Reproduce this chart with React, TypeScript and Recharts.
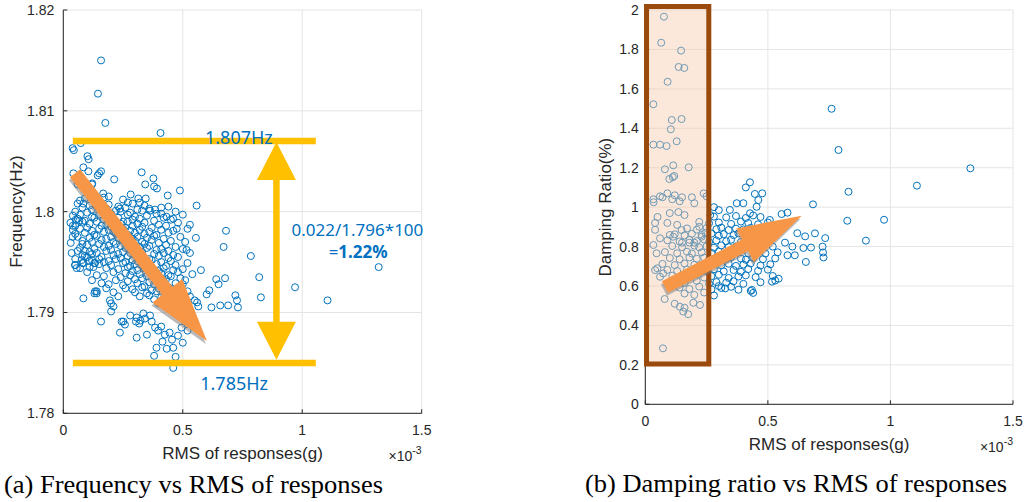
import React from 'react'
import {
  ScatterChart,
  Scatter,
  XAxis,
  YAxis,
  CartesianGrid,
  ReferenceLine,
  ReferenceArea,
  ReferenceDot,
} from 'recharts'

// x values are RMS of responses in units of 1e-3 g
const rmsTicks = [0, 0.5, 1, 1.5]
const freqTicks = [1.78, 1.79, 1.8, 1.81, 1.82]
const dampTicks = [0, 0.2, 0.4, 0.6, 0.8, 1, 1.2, 1.4, 1.6, 1.8, 2]

const freqSparse: [number, number][] = [
  [0.158, 1.815], [0.145, 1.8117], [0.176, 1.8088], [0.407, 1.8078],
  [0.039, 1.8063], [0.044, 1.8061], [0.073, 1.8068], [0.101, 1.8055], [0.106, 1.8052],
  [0.084, 1.8044], [0.042, 1.8038], [0.105, 1.804], [0.15, 1.8038], [0.158, 1.804], [0.144, 1.8036],
  [0.121, 1.8028], [0.213, 1.8032], [0.167, 1.8018], [0.19, 1.8015], [0.328, 1.8039], [0.377, 1.8033],
  [0.343, 1.8027], [0.38, 1.8025], [0.392, 1.8023], [0.437, 1.8016], [0.488, 1.8021], [0.558, 1.8006],
  [0.282, 1.8017], [0.314, 1.8013], [0.345, 1.8013], [0.32, 1.8009], [0.07, 1.8011], [0.084, 1.8008],
  [0.06, 1.8027], [0.12, 1.8027], [0.237, 1.8003], [0.363, 1.8001], [0.384, 1.8002], [0.41, 1.7998],
  [0.46, 1.7993], [0.475, 1.7983], [0.432, 1.7995], [0.516, 1.7962],
  [0.681, 1.7981], [0.555, 1.7974], [0.671, 1.7965], [1.32, 1.7945], [0.785, 1.7956], [0.82, 1.7935],
  [0.97, 1.7925], [0.827, 1.7915], [1.106, 1.7912],
  [0.576, 1.7942], [0.64, 1.7933], [0.677, 1.7934], [0.611, 1.7922], [0.72, 1.7917], [0.727, 1.7912],
  [0.731, 1.7905], [0.657, 1.7907], [0.69, 1.7907], [0.62, 1.7905], [0.56, 1.791], [0.565, 1.7906],
  [0.65, 1.7928], [0.6, 1.7918],
  [0.039, 1.7975], [0.031, 1.7969], [0.052, 1.7992], [0.067, 1.7991], [0.035, 1.7959], [0.049, 1.7947],
  [0.056, 1.7944], [0.084, 1.7949], [0.077, 1.7952], [0.126, 1.7945], [0.133, 1.7949],
  [0.084, 1.7914], [0.14, 1.7919], [0.133, 1.7921], [0.195, 1.7912], [0.2, 1.7909], [0.2, 1.7901], [0.21, 1.7906],
  [0.158, 1.7891], [0.237, 1.788], [0.244, 1.7891], [0.258, 1.7888], [0.251, 1.7891], [0.307, 1.7875],
  [0.304, 1.7891], [0.318, 1.7889], [0.323, 1.7892],
  [0.363, 1.7897], [0.37, 1.7891], [0.384, 1.7885], [0.397, 1.7882], [0.39, 1.7865], [0.433, 1.7864],
  [0.46, 1.7865], [0.38, 1.7857], [0.47, 1.7856], [0.46, 1.7845],
  [0.28, 1.7897], [0.307, 1.7895], [0.335, 1.7899], [0.342, 1.7894], [0.41, 1.7886], [0.425, 1.7878],
  [0.445, 1.788], [0.455, 1.7873], [0.48, 1.7877], [0.5, 1.787], [0.495, 1.7885], [0.52, 1.7882],
  [0.35, 1.7878], [0.415, 1.7871],
  [0.05, 1.7947], [0.08, 1.7949], [0.07, 1.7944], [0.11, 1.7945], [0.13, 1.7949], [0.1, 1.794],
  [0.14, 1.7937], [0.12, 1.7932], [0.16, 1.7929], [0.14, 1.7921], [0.13, 1.7919], [0.18, 1.7924],
  [0.21, 1.792], [0.23, 1.7916],
  [0.06, 1.7961], [0.08, 1.7957], [0.05, 1.7953], [0.1, 1.7955], [0.12, 1.7958], [0.15, 1.7953],
  [0.09, 1.7961], [0.17, 1.795], [0.11, 1.7951], [0.05, 1.7978], [0.08, 1.7968], [0.04, 1.7986],
]

const freqCore: [number, number][] = [
  [0.09, 1.8013], [0.17, 1.8014], [0.25, 1.8012], [0.27, 1.8009],
  [0.06, 1.8008], [0.11, 1.8006], [0.15, 1.8009], [0.19, 1.8007], [0.23, 1.8005], [0.29, 1.8008], [0.34, 1.8006], [0.41, 1.8004],
  [0.08, 1.8004], [0.12, 1.8002], [0.14, 1.8005], [0.18, 1.8003], [0.22, 1.8001], [0.26, 1.8004], [0.31, 1.8002], [0.36, 1.8003], [0.44, 1.8005],
  [0.05, 1.8], [0.1, 1.7999], [0.16, 1.8001], [0.2, 1.7998], [0.24, 1.8], [0.28, 1.7999], [0.33, 1.8001], [0.39, 1.7998], [0.47, 1.8],
  [0.04, 1.7996], [0.07, 1.7997], [0.12, 1.7995], [0.15, 1.7997], [0.19, 1.7996], [0.23, 1.7994], [0.27, 1.7997], [0.3, 1.7995], [0.35, 1.7996], [0.42, 1.7994], [0.5, 1.7997],
  [0.06, 1.7993], [0.09, 1.7991], [0.13, 1.7994], [0.17, 1.7992], [0.21, 1.7993], [0.25, 1.799], [0.29, 1.7992], [0.32, 1.7993], [0.38, 1.7991], [0.45, 1.7992],
  [0.03, 1.7989], [0.08, 1.799], [0.11, 1.7988], [0.14, 1.799], [0.18, 1.7987], [0.22, 1.7989], [0.24, 1.7988], [0.27, 1.799], [0.31, 1.7988], [0.34, 1.7989], [0.4, 1.7987], [0.48, 1.7989], [0.53, 1.7987],
  [0.05, 1.7986], [0.1, 1.7984], [0.16, 1.7986], [0.2, 1.7985], [0.23, 1.7987], [0.26, 1.7984], [0.29, 1.7986], [0.33, 1.7985], [0.37, 1.7984], [0.43, 1.7986],
  [0.04, 1.7982], [0.07, 1.7983], [0.12, 1.7981], [0.15, 1.7983], [0.19, 1.7982], [0.21, 1.798], [0.25, 1.7983], [0.28, 1.7981], [0.32, 1.7982], [0.36, 1.798], [0.41, 1.7982], [0.46, 1.7981], [0.52, 1.7983],
  [0.09, 1.7979], [0.13, 1.7977], [0.17, 1.798], [0.22, 1.7978], [0.24, 1.7979], [0.27, 1.7977], [0.3, 1.7979], [0.34, 1.7978], [0.39, 1.7977], [0.44, 1.7979],
  [0.06, 1.7975], [0.11, 1.7974], [0.14, 1.7976], [0.18, 1.7973], [0.2, 1.7975], [0.23, 1.7974], [0.26, 1.7976], [0.29, 1.7973], [0.31, 1.7975], [0.35, 1.7974], [0.38, 1.7976], [0.42, 1.7973], [0.49, 1.7975],
  [0.08, 1.7971], [0.12, 1.797], [0.16, 1.7972], [0.21, 1.797], [0.25, 1.7971], [0.28, 1.7969], [0.3, 1.7971], [0.33, 1.797], [0.37, 1.7972], [0.4, 1.7969], [0.45, 1.7971], [0.51, 1.797],
  [0.1, 1.7967], [0.15, 1.7968], [0.19, 1.7966], [0.22, 1.7968], [0.24, 1.7966], [0.27, 1.7967], [0.32, 1.7965], [0.34, 1.7968], [0.36, 1.7966], [0.43, 1.7967], [0.47, 1.7965],
  [0.07, 1.7964], [0.13, 1.7963], [0.17, 1.7965], [0.2, 1.7962], [0.26, 1.7964], [0.29, 1.7963], [0.31, 1.7961], [0.35, 1.7964], [0.39, 1.7962], [0.41, 1.7963], [0.44, 1.7961], [0.5, 1.7963],
  [0.11, 1.796], [0.14, 1.7959], [0.18, 1.7961], [0.23, 1.7958], [0.25, 1.796], [0.28, 1.7959], [0.3, 1.7957], [0.33, 1.796], [0.38, 1.7958], [0.42, 1.7959], [0.46, 1.7957], [0.53, 1.7959],
  [0.09, 1.7956], [0.16, 1.7955], [0.21, 1.7957], [0.24, 1.7954], [0.27, 1.7956], [0.32, 1.7955], [0.36, 1.7953], [0.4, 1.7956], [0.44, 1.7954], [0.48, 1.7955],
  [0.12, 1.7952], [0.19, 1.7951], [0.22, 1.7953], [0.26, 1.795], [0.29, 1.7952], [0.31, 1.7951], [0.34, 1.7949], [0.37, 1.7952], [0.41, 1.795], [0.45, 1.7951], [0.52, 1.7949],
  [0.15, 1.7948], [0.2, 1.7947], [0.25, 1.7949], [0.28, 1.7946], [0.3, 1.7948], [0.33, 1.7947], [0.35, 1.7945], [0.39, 1.7948], [0.43, 1.7946], [0.47, 1.7947],
  [0.18, 1.7944], [0.23, 1.7943], [0.27, 1.7945], [0.31, 1.7942], [0.34, 1.7944], [0.36, 1.7943], [0.4, 1.7941], [0.42, 1.7944], [0.46, 1.7942], [0.5, 1.7943],
  [0.21, 1.794], [0.26, 1.7939], [0.29, 1.7941], [0.32, 1.7938], [0.37, 1.794], [0.41, 1.7939], [0.44, 1.7937], [0.48, 1.794], [0.54, 1.7938],
  [0.17, 1.7936], [0.24, 1.7935], [0.28, 1.7937], [0.33, 1.7934], [0.35, 1.7936], [0.38, 1.7935], [0.43, 1.7933], [0.45, 1.7936], [0.49, 1.7934],
  [0.22, 1.7932], [0.27, 1.7931], [0.3, 1.7933], [0.36, 1.793], [0.39, 1.7932], [0.42, 1.7931], [0.47, 1.7929], [0.51, 1.7932],
  [0.19, 1.7928], [0.25, 1.7927], [0.31, 1.7929], [0.34, 1.7926], [0.38, 1.7928], [0.41, 1.7927], [0.44, 1.7925], [0.5, 1.7928],
  [0.26, 1.7924], [0.29, 1.7923], [0.33, 1.7925], [0.37, 1.7922], [0.4, 1.7924], [0.46, 1.7923], [0.52, 1.7921],
  [0.3, 1.792], [0.35, 1.7919], [0.39, 1.7921], [0.43, 1.7918], [0.48, 1.792],
  [0.32, 1.7916], [0.36, 1.7917], [0.41, 1.7915], [0.45, 1.7917], [0.53, 1.7916],
  [0.38, 1.7913], [0.42, 1.7912], [0.47, 1.7914], [0.55, 1.7912],
  [0.4, 1.7909], [0.44, 1.7908], [0.5, 1.791],
]

const dampSparse: [number, number][] = [
  [0.076, 1.966], [0.065, 1.834], [0.146, 1.794], [0.136, 1.711], [0.159, 1.706], [0.091, 1.636],
  [0.033, 1.522], [0.108, 1.442], [0.148, 1.447], [0.104, 1.395], [0.033, 1.317], [0.06, 1.317],
  [0.087, 1.31], [0.128, 1.334], [0.114, 1.212], [0.08, 1.192], [0.177, 1.202], [0.098, 1.143],
  [0.118, 1.158], [0.112, 1.152],
  [0.76, 1.499], [0.788, 1.29], [1.326, 1.197], [1.108, 1.109], [0.829, 1.078], [0.684, 1.014],
  [0.824, 0.931], [0.974, 0.936], [0.9, 0.83],
  [0.427, 1.126], [0.41, 1.1], [0.447, 1.067], [0.477, 1.07], [0.238, 1.07],
  [0.072, 0.284],
  [0.079, 0.534], [0.141, 0.495], [0.155, 0.47], [0.175, 0.457], [0.196, 0.515], [0.223, 0.504],
  [0.12, 0.51], [0.16, 0.49],
  [0.734, 0.843], [0.692, 0.867], [0.62, 0.868], [0.652, 0.852], [0.645, 0.793], [0.676, 0.795],
  [0.723, 0.8], [0.725, 0.77], [0.727, 0.745], [0.655, 0.722], [0.58, 0.756], [0.61, 0.756],
  [0.556, 0.965], [0.58, 0.972], [0.6, 0.8], [0.57, 0.82],
  [0.435, 0.58], [0.44, 0.565], [0.43, 0.575], [0.544, 0.637], [0.517, 0.622], [0.326, 0.588], [0.3, 0.6],
  [0.345, 0.986], [0.373, 1.02], [0.4, 1.02], [0.427, 0.969], [0.454, 1.002], [0.461, 1.036],
  [0.508, 0.935], [0.536, 0.901], [0.549, 0.884], [0.3, 0.985], [0.265, 0.96], [0.28, 1.0],
  [0.09, 1.07], [0.12, 1.06], [0.19, 1.05], [0.25, 1.055], [0.033, 1.04], [0.034, 1.025],
  [0.06, 1.055], [0.07, 1.05], [0.11, 1.04], [0.14, 1.03], [0.15, 1.05], [0.2, 1.02],
  [0.05, 0.95], [0.09, 0.92], [0.04, 0.92], [0.04, 0.885], [0.1, 0.97], [0.135, 0.975],
  [0.16, 0.96], [0.13, 0.91], [0.148, 0.884], [0.114, 0.85], [0.06, 0.842], [0.1, 0.859],
  [0.033, 0.808], [0.046, 0.766], [0.22, 0.9], [0.245, 0.87], [0.23, 0.85], [0.2, 0.82],
  [0.18, 0.82], [0.15, 0.82], [0.04, 0.681], [0.049, 0.69], [0.06, 0.647], [0.073, 0.664],
]

const dampCore: [number, number][] = [
  [0.28, 0.952], [0.33, 0.948], [0.37, 0.955], [0.41, 0.945], [0.44, 0.958], [0.47, 0.95],
  [0.22, 0.925], [0.26, 0.918], [0.3, 0.922], [0.35, 0.915], [0.39, 0.927], [0.42, 0.92], [0.46, 0.913], [0.5, 0.922],
  [0.17, 0.892], [0.21, 0.886], [0.25, 0.894], [0.29, 0.888], [0.31, 0.896], [0.34, 0.884], [0.37, 0.891], [0.4, 0.887], [0.43, 0.895], [0.48, 0.889], [0.53, 0.892],
  [0.12, 0.862], [0.16, 0.857], [0.19, 0.865], [0.23, 0.859], [0.27, 0.866], [0.3, 0.855], [0.32, 0.863], [0.36, 0.858], [0.38, 0.867], [0.41, 0.856], [0.45, 0.862], [0.49, 0.857],
  [0.09, 0.832], [0.14, 0.826], [0.18, 0.834], [0.21, 0.828], [0.24, 0.836], [0.26, 0.824], [0.29, 0.831], [0.33, 0.827], [0.35, 0.835], [0.39, 0.823], [0.42, 0.83], [0.46, 0.826], [0.51, 0.833],
  [0.11, 0.803], [0.15, 0.797], [0.2, 0.805], [0.22, 0.796], [0.25, 0.802], [0.28, 0.794], [0.31, 0.806], [0.34, 0.798], [0.37, 0.801], [0.4, 0.795], [0.44, 0.804], [0.47, 0.797], [0.52, 0.8],
  [0.08, 0.772], [0.13, 0.766], [0.17, 0.774], [0.19, 0.765], [0.23, 0.771], [0.27, 0.768], [0.3, 0.775], [0.32, 0.764], [0.36, 0.77], [0.38, 0.776], [0.42, 0.767], [0.45, 0.773], [0.49, 0.765], [0.54, 0.771],
  [0.1, 0.742], [0.14, 0.736], [0.18, 0.745], [0.21, 0.738], [0.24, 0.744], [0.26, 0.735], [0.29, 0.741], [0.33, 0.737], [0.35, 0.746], [0.39, 0.739], [0.41, 0.733], [0.44, 0.742], [0.48, 0.736], [0.53, 0.74],
  [0.07, 0.712], [0.12, 0.706], [0.16, 0.714], [0.2, 0.708], [0.23, 0.703], [0.27, 0.711], [0.31, 0.705], [0.34, 0.713], [0.37, 0.702], [0.4, 0.709], [0.43, 0.715], [0.47, 0.704], [0.51, 0.71],
  [0.09, 0.682], [0.13, 0.676], [0.17, 0.684], [0.22, 0.673], [0.25, 0.679], [0.28, 0.685], [0.32, 0.674], [0.36, 0.681], [0.39, 0.672], [0.42, 0.686], [0.46, 0.677], [0.5, 0.683],
  [0.11, 0.652], [0.15, 0.646], [0.19, 0.655], [0.24, 0.643], [0.27, 0.65], [0.3, 0.657], [0.34, 0.641], [0.38, 0.648], [0.41, 0.654], [0.45, 0.645], [0.52, 0.651],
  [0.12, 0.622], [0.16, 0.615], [0.21, 0.626], [0.26, 0.612], [0.29, 0.62], [0.33, 0.617], [0.36, 0.624], [0.4, 0.611], [0.47, 0.619], [0.53, 0.628],
  [0.14, 0.592], [0.18, 0.585], [0.22, 0.597], [0.27, 0.583], [0.31, 0.59], [0.35, 0.596], [0.38, 0.581],
  [0.16, 0.562], [0.2, 0.555], [0.24, 0.567], [0.28, 0.552],
]

const freqData = [...freqSparse, ...freqCore].map(([x, y]) => ({x, y}))
const dampData = [...dampSparse, ...dampCore].map(([x, y]) => ({x, y}))

const BLUE = '#0072BD'
const AXIS = '#262626'
const GRID = '#e4e4e4'
const YELLOW = '#FFC000'
const ORANGE = '#F79646'
const NOTE = '#0070C0'
const SANS = '"Liberation Sans", Arial, sans-serif'
const NOTE_FONT = '"Noto Sans", "Open Sans", sans-serif'

const Ring = (p: any) => (
  <circle cx={p.cx} cy={p.cy} r={3.5} fill="none" stroke={BLUE} strokeWidth={1} />
)

function arrowPoints(x1: number, y1: number, x2: number, y2: number, shaft: number, headW: number, headL: number) {
  const len = Math.hypot(x2 - x1, y2 - y1)
  const ux = (x2 - x1) / len
  const uy = (y2 - y1) / len
  const nx = -uy
  const ny = ux
  const bx = x2 - ux * headL
  const by = y2 - uy * headL
  const pts = [
    [x1 + (nx * shaft) / 2, y1 + (ny * shaft) / 2],
    [bx + (nx * shaft) / 2, by + (ny * shaft) / 2],
    [bx + (nx * headW) / 2, by + (ny * headW) / 2],
    [x2, y2],
    [bx - (nx * headW) / 2, by - (ny * headW) / 2],
    [bx - (nx * shaft) / 2, by - (ny * shaft) / 2],
    [x1 - (nx * shaft) / 2, y1 - (ny * shaft) / 2],
  ]
  return pts.map((p) => p.join(',')).join(' ')
}

const FatArrow = (p: any) => (
  <g>
    <polygon
      points={arrowPoints(p.x1, p.y1, p.x2, p.y2, 13, 38, 64)}
      fill="#7f7f7f"
      opacity={0.55}
      transform="translate(-1,3)"
    />
    <polygon points={arrowPoints(p.x1, p.y1, p.x2, p.y2, 13, 38, 64)} fill={ORANGE} />
  </g>
)

const DoubleArrow = (p: any) => {
  const my = (p.y1 + p.y2) / 2
  return (
    <g fill={YELLOW}>
      <polygon points={arrowPoints(p.x1, my, p.x1, p.y1, 6.5, 39, 38)} />
      <polygon points={arrowPoints(p.x2, my, p.x2, p.y2, 6.5, 39, 38)} />
    </g>
  )
}

const BandLine = (p: any) => (
  <line x1={p.x1} y1={p.y1} x2={p.x2} y2={p.y2} stroke={YELLOW} strokeWidth={6.5} />
)

const noteText = (text: string, size: number) => (p: any) => (
  <text x={p.cx} y={p.cy} textAnchor="middle" fill={NOTE} fontSize={size} fontFamily={NOTE_FONT}>
    {text}
  </text>
)

const percentText = (p: any) => (
  <text x={p.cx} y={p.cy} textAnchor="middle" fill={NOTE} fontSize={17} fontFamily={NOTE_FONT}>
    <tspan>=</tspan>
    <tspan fontWeight="bold">1.22%</tspan>
  </text>
)

const xTitle = (props: any) => {
  const {x, y, width} = props.viewBox
  return (
    <g fill={AXIS} fontFamily={SANS}>
      <text x={x + width / 2} y={y + 45.5} textAnchor="middle" fontSize={17}>
        RMS of responses(g)
      </text>
      <text x={x + width} y={y + 47.5} textAnchor="end" fontSize={14}>
        ×10
        <tspan dy={-7} fontSize={10.5}>
          -3
        </tspan>
      </text>
    </g>
  )
}

const yTitle = (text: string, dx: number) => (props: any) => {
  const {x, y, height} = props.viewBox
  const cx = x + dx
  const cy = y + height / 2
  return (
    <text
      x={cx}
      y={cy}
      dy="0.35em"
      transform={`rotate(-90 ${cx} ${cy})`}
      textAnchor="middle"
      fill={AXIS}
      fontSize={17}
      fontFamily={SANS}
    >
      {text}
    </text>
  )
}

const tickStyle = {fill: AXIS, fontSize: 14, fontFamily: SANS}

function FreqChart() {
  return (
    <ScatterChart width={440} height={480} margin={{top: 10, right: 18.3, bottom: 26.7, left: 13.3}}>
      <CartesianGrid xAxisId="b" yAxisId="l" stroke={GRID} />
      <XAxis
        xAxisId="b"
        dataKey="x"
        type="number"
        domain={[0, 1.5]}
        ticks={rmsTicks}
        interval={0}
        height={40}
        tickSize={-4}
        tickMargin={15.5}
        stroke={AXIS}
        tick={tickStyle}
        label={{content: xTitle}}
      />
      <XAxis xAxisId="t" orientation="top" type="number" domain={[0, 1.5]} ticks={rmsTicks} interval={0} height={0} tickSize={-4} tick={false} stroke={AXIS} />
      <YAxis
        yAxisId="l"
        dataKey="y"
        type="number"
        domain={[1.78, 1.82]}
        ticks={freqTicks}
        interval={0}
        width={50}
        tickSize={-4}
        tickMargin={13}
        stroke={AXIS}
        tick={tickStyle}
        label={{content: yTitle('Frequency(Hz)', 3.2)}}
      />
      <YAxis yAxisId="r" orientation="right" type="number" domain={[1.78, 1.82]} ticks={freqTicks} interval={0} width={0} tickSize={-4} tick={false} stroke={AXIS} />
      <Scatter xAxisId="b" yAxisId="l" data={freqData} shape={Ring} isAnimationActive={false} />
      <ReferenceLine
        xAxisId="b"
        yAxisId="l"
        segment={[{x: 0.049, y: 1.8038}, {x: 0.601, y: 1.78716}]}
        shape={FatArrow}
        zIndex={700}
      />
      <ReferenceLine xAxisId="b" yAxisId="l" segment={[{x: 0.04, y: 1.807}, {x: 1.057, y: 1.807}]} shape={BandLine} zIndex={750} />
      <ReferenceLine xAxisId="b" yAxisId="l" segment={[{x: 0.04, y: 1.785}, {x: 1.057, y: 1.785}]} shape={BandLine} zIndex={750} />
      <ReferenceLine
        xAxisId="b"
        yAxisId="l"
        segment={[{x: 0.892, y: 1.8069}, {x: 0.892, y: 1.7853}]}
        shape={DoubleArrow}
        zIndex={760}
      />
      <ReferenceDot xAxisId="b" yAxisId="l" x={0.735} y={1.8067} shape={noteText('1.807Hz', 18)} zIndex={800} />
      <ReferenceDot xAxisId="b" yAxisId="l" x={0.715} y={1.7823} shape={noteText('1.785Hz', 18)} zIndex={800} />
      <ReferenceDot xAxisId="b" yAxisId="l" x={1.231} y={1.79761} shape={noteText('0.022/1.796*100', 17)} zIndex={800} />
      <ReferenceDot xAxisId="b" yAxisId="l" x={1.234} y={1.79537} shape={percentText} zIndex={800} />
    </ScatterChart>
  )
}

function DampChart() {
  return (
    <ScatterChart width={505} height={470} margin={{top: 10, right: 12, bottom: 25.7, left: 75.3}}>
      <CartesianGrid xAxisId="b" yAxisId="l" stroke={GRID} />
      <XAxis
        xAxisId="b"
        dataKey="x"
        type="number"
        domain={[0, 1.5]}
        ticks={rmsTicks}
        interval={0}
        height={40}
        tickSize={-4}
        tickMargin={15.5}
        stroke={AXIS}
        tick={tickStyle}
        label={{content: xTitle}}
      />
      <XAxis xAxisId="t" orientation="top" type="number" domain={[0, 1.5]} ticks={rmsTicks} interval={0} height={0} tickSize={-4} tick={false} stroke={AXIS} />
      <YAxis
        yAxisId="l"
        dataKey="y"
        type="number"
        domain={[0, 2]}
        ticks={dampTicks}
        interval={0}
        width={50}
        tickSize={-4}
        tickMargin={10.6}
        stroke={AXIS}
        tick={tickStyle}
        label={{content: yTitle('Damping Ratio(%)', 10.2)}}
      />
      <YAxis yAxisId="r" orientation="right" type="number" domain={[0, 2]} ticks={dampTicks} interval={0} width={0} tickSize={-4} tick={false} stroke={AXIS} />
      <Scatter xAxisId="b" yAxisId="l" data={dampData} shape={Ring} isAnimationActive={false} />
      <ReferenceArea
        xAxisId="b"
        yAxisId="l"
        x1={0.005}
        x2={0.259}
        y1={0.204}
        y2={2.018}
        ifOverflow="visible"
        fill="#F8CBAD"
        fillOpacity={0.45}
        stroke="#9A4A0C"
        strokeWidth={5}
        zIndex={700}
      />
      <ReferenceLine
        xAxisId="b"
        yAxisId="l"
        segment={[{x: 0.08, y: 0.595}, {x: 0.638, y: 0.957}]}
        shape={FatArrow}
        zIndex={750}
      />
    </ScatterChart>
  )
}

export default function App() {
  return (
    <div style={{position: 'absolute', left: 0, top: 0, width: 1025, height: 502, background: '#fff'}}>
      <div style={{position: 'absolute', left: 0, top: 0}}>
        <FreqChart />
      </div>
      <div style={{position: 'absolute', left: 520, top: 0}}>
        <DampChart />
      </div>
      <svg width={1025} height={502} style={{position: 'absolute', left: 0, top: 0, pointerEvents: 'none'}}>
        <g fontFamily='"Liberation Serif", "Times New Roman", serif' fontSize={26} fill="#000">
          <text x={4} y={493} textLength={379} lengthAdjust="spacingAndGlyphs">
            (a) Frequency vs RMS of responses
          </text>
          <text x={585} y={492} textLength={422} lengthAdjust="spacingAndGlyphs">
            (b) Damping ratio vs RMS of responses
          </text>
        </g>
      </svg>
    </div>
  )
}
